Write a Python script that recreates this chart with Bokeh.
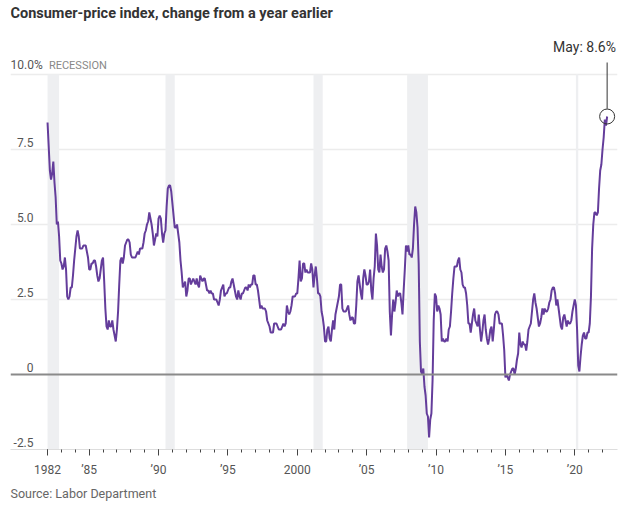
from bokeh.plotting import figure
from bokeh.models import FixedTicker, Range1d, Title, Span
from bokeh.embed import file_html
from bokeh.resources import INLINE
from bokeh.core.properties import value

# Monthly CPI-U, % change from a year earlier (Jan 1982 - May 2022)
cpi_1980s = [
    8.4, 7.6, 6.8, 6.5, 6.7, 7.1, 6.4, 5.9, 5.0, 5.1, 4.6, 3.8,   # 1982
    3.7, 3.5, 3.6, 3.9, 3.5, 2.6, 2.5, 2.6, 2.9, 2.9, 3.3, 3.8,   # 1983
    4.2, 4.6, 4.8, 4.6, 4.2, 4.2, 4.2, 4.3, 4.3, 4.3, 4.1, 3.9,   # 1984
    3.5, 3.5, 3.7, 3.7, 3.8, 3.8, 3.6, 3.3, 3.1, 3.2, 3.5, 3.8,   # 1985
    3.9, 3.1, 2.2, 1.6, 1.5, 1.8, 1.6, 1.6, 1.8, 1.5, 1.3, 1.1,   # 1986
    1.5, 2.1, 3.0, 3.8, 3.9, 3.7, 3.9, 4.3, 4.4, 4.5, 4.5, 4.4,   # 1987
    4.0, 3.9, 3.9, 3.9, 3.9, 4.0, 4.1, 4.0, 4.2, 4.2, 4.2, 4.4,   # 1988
    4.7, 4.8, 5.0, 5.1, 5.4, 5.2, 5.0, 4.7, 4.3, 4.5, 4.7, 4.6,   # 1989
]
cpi_1990s = [
    5.2, 5.3, 5.2, 4.7, 4.4, 4.7, 4.8, 5.6, 6.2, 6.3, 6.3, 6.1,   # 1990
    5.7, 5.3, 4.9, 4.9, 5.0, 4.7, 4.4, 3.8, 3.4, 2.9, 3.0, 3.1,   # 1991
    2.6, 2.8, 3.2, 3.2, 3.0, 3.1, 3.2, 3.1, 3.0, 3.2, 3.0, 2.9,   # 1992
    3.3, 3.2, 3.1, 3.2, 3.2, 3.0, 2.8, 2.8, 2.7, 2.8, 2.7, 2.7,   # 1993
    2.5, 2.5, 2.5, 2.4, 2.3, 2.5, 2.8, 2.9, 3.0, 2.6, 2.7, 2.7,   # 1994
    2.8, 2.9, 2.9, 3.1, 3.2, 3.0, 2.8, 2.6, 2.5, 2.8, 2.6, 2.5,   # 1995
    2.7, 2.7, 2.8, 2.9, 2.9, 2.8, 3.0, 2.9, 3.0, 3.0, 3.3, 3.3,   # 1996
    3.0, 3.0, 2.8, 2.5, 2.2, 2.3, 2.2, 2.2, 2.2, 2.1, 1.8, 1.7,   # 1997
    1.6, 1.4, 1.4, 1.4, 1.7, 1.7, 1.7, 1.6, 1.5, 1.5, 1.5, 1.6,   # 1998
    1.7, 1.6, 1.7, 2.3, 2.1, 2.0, 2.1, 2.3, 2.6, 2.6, 2.6, 2.7,   # 1999
]
cpi_2000s = [
    2.7, 3.2, 3.8, 3.1, 3.2, 3.7, 3.7, 3.4, 3.5, 3.4, 3.4, 3.4,   # 2000
    3.7, 3.5, 2.9, 3.3, 3.6, 3.2, 2.7, 2.7, 2.6, 2.1, 1.9, 1.6,   # 2001
    1.1, 1.1, 1.5, 1.6, 1.2, 1.1, 1.5, 1.8, 1.5, 2.0, 2.2, 2.4,   # 2002
    2.6, 3.0, 3.0, 2.2, 2.1, 2.1, 2.1, 2.2, 2.3, 2.0, 1.8, 1.9,   # 2003
    1.9, 1.7, 1.7, 2.3, 3.1, 3.3, 3.0, 2.7, 2.5, 3.2, 3.5, 3.3,   # 2004
    3.0, 3.0, 3.1, 3.5, 2.8, 2.5, 3.2, 3.6, 4.7, 4.3, 3.5, 3.4,   # 2005
    4.0, 3.6, 3.4, 3.5, 4.2, 4.3, 4.1, 3.8, 2.1, 1.3, 2.0, 2.5,   # 2006
    2.1, 2.4, 2.8, 2.6, 2.7, 2.7, 2.4, 2.0, 2.8, 3.5, 4.3, 4.1,   # 2007
    4.3, 4.0, 4.0, 3.9, 4.2, 5.0, 5.6, 5.4, 4.9, 3.7, 1.1, 0.1,   # 2008
    0.0, 0.2, -0.4, -0.7, -1.3, -1.4, -2.1, -1.5, -1.3, -0.2, 1.8, 2.7,  # 2009
]
cpi_2010s = [
    2.6, 2.1, 2.3, 2.2, 2.0, 1.1, 1.2, 1.1, 1.1, 1.2, 1.1, 1.5,   # 2010
    1.6, 2.1, 2.7, 3.2, 3.6, 3.6, 3.6, 3.8, 3.9, 3.5, 3.4, 3.0,   # 2011
    2.9, 2.9, 2.7, 2.3, 1.7, 1.7, 1.4, 1.7, 2.0, 2.2, 1.8, 1.7,   # 2012
    1.6, 2.0, 1.5, 1.1, 1.4, 1.8, 2.0, 1.5, 1.2, 1.0, 1.2, 1.5,   # 2013
    1.6, 1.1, 1.5, 2.0, 2.1, 2.1, 2.0, 1.7, 1.7, 1.7, 1.3, 0.8,   # 2014
    -0.1, 0.0, -0.1, -0.2, 0.0, 0.1, 0.2, 0.2, 0.0, 0.2, 0.5, 0.7,  # 2015
    1.4, 1.0, 0.9, 1.1, 1.0, 1.0, 0.8, 1.1, 1.5, 1.6, 1.7, 2.1,   # 2016
    2.5, 2.7, 2.4, 2.2, 1.9, 1.6, 1.7, 1.9, 2.2, 2.0, 2.2, 2.1,   # 2017
    2.1, 2.2, 2.4, 2.5, 2.8, 2.9, 2.9, 2.7, 2.3, 2.5, 2.2, 1.9,   # 2018
    1.6, 1.5, 1.9, 2.0, 1.8, 1.6, 1.8, 1.7, 1.7, 1.8, 2.1, 2.3,   # 2019
]
cpi_2020s = [
    2.5, 2.3, 1.5, 0.3, 0.1, 0.6, 1.0, 1.3, 1.4, 1.2, 1.2, 1.4,   # 2020
    1.4, 1.7, 2.6, 4.2, 5.0, 5.4, 5.4, 5.3, 5.4, 6.2, 6.8, 7.0,   # 2021
    7.5, 7.9, 8.5, 8.3, 8.6,                                      # 2022
]
start_year = 1982
last_label = "May"

# Recessions (decimal years; first one clipped to the data start)
recession_start = [1982.0, 1990.5, 2001.167, 2007.917, 2020.083]
recession_end = [1982.833, 1991.167, 2001.833, 2009.417, 2020.25]

# Axis ticks
x_major = [1982, 1985, 1990, 1995, 2000, 2005, 2010, 2015, 2020]
x_labels = ["1982", "\u201985", "\u201990", "\u201995", "2000", "\u201905", "\u201910", "\u201915", "\u201920"]
x_minor = list(range(1982, 2023))
y_grid = [2.5, 5.0, 7.5, 10.0]
y_ticks = [-2.5, 0, 2.5, 5.0, 7.5, 10.0]
y_labels = ["-2.5", "0", "2.5", "5.0", "7.5", "10.0%"]

values = cpi_1980s + cpi_1990s + cpi_2000s + cpi_2010s + cpi_2020s
xs = [start_year + i / 12 for i in range(len(values))]

FONT = "Roboto"
x0, x1 = 1979.33, 2023.08
y0, y1 = -2.5, 12.4667

p = figure(width=624, height=508, output_backend="svg", toolbar_location=None,
           x_range=Range1d(x0, x1), y_range=Range1d(y0, y1),
           min_border_left=10, min_border_right=7, min_border_top=0, min_border_bottom=59,
           background_fill_color="white", border_fill_color="white")
p.outline_line_color = None

# Chart title (drawn at the top of the frame)
p.text(x=[x0], y=[12.03], text=["Consumer-price index, change from a year earlier"],
       text_font=value(FONT), text_font_size=value("14.5px"), text_font_style="bold",
       text_color="#333333", text_align="left", text_baseline="middle")

src = Title(text="Source: Labor Department", align="left", text_font=FONT,
            text_font_size="12.5px", text_font_style="normal", text_color="#666666",
            offset=0, standoff=9)
p.add_layout(src, "below")

# Grid
p.xgrid.visible = False
p.ygrid.ticker = FixedTicker(ticks=y_grid)
p.ygrid.grid_line_color = "#ececec"
p.ygrid.grid_line_width = 1.5
p.yaxis.visible = False

# X axis
ax = p.xaxis[0]
ax.ticker = FixedTicker(ticks=x_major, minor_ticks=x_minor)
ax.major_label_overrides = {t: l for t, l in zip(x_major, x_labels)}
ax.axis_line_color = "#dddddd"
ax.axis_line_width = 1
ax.major_tick_line_color = "#444444"
ax.minor_tick_line_color = "#444444"
ax.major_tick_out = 6
ax.major_tick_in = 0
ax.minor_tick_out = 3
ax.minor_tick_in = 0
ax.major_label_text_font = FONT
ax.major_label_text_font_size = "12px"
ax.major_label_text_color = "#555555"
ax.major_label_standoff = 7

# Recession bands
p.quad(left=recession_start, right=recession_end, bottom=y0, top=10.0,
       fill_color="#eeeff1", line_color=None)
p.text(x=[recession_start[0] + 0.1], y=[10.0], text=["RECESSION"],
       text_font=value(FONT), text_font_size=value("11px"), text_color="#888888",
       text_align="left", text_baseline="bottom", y_offset=-3)

# Y labels
lab_x = [x0 if l.endswith("%") else 1980.99 for l in y_labels]
lab_align = ["left" if l.endswith("%") else "right" for l in y_labels]
p.text(x=lab_x, y=y_ticks, text=y_labels, text_font=value(FONT),
       text_font_size=value("12px"), text_color="#555555",
       text_align=lab_align, text_baseline="bottom", y_offset=-3)

# Zero line
p.add_layout(Span(location=0, dimension="width", line_color="#8a8a8a", line_width=2))

# CPI line
p.line(xs, values, line_color="#643d9b", line_width=2)

# Latest-value callout
lx, ly = xs[-1], values[-1]
p.segment(x0=[lx], y0=[ly + 0.26], x1=[lx], y1=[10.4], line_color="#333333", line_width=1)
p.scatter(x=[lx], y=[ly], size=15, marker="circle", fill_color=None,
          line_color="#333333", line_width=1)
p.text(x=[2022.97], y=[10.93], text=[f"{last_label}: {ly}%"], text_font=value(FONT),
       text_font_size=value("14px"), text_color="#333333",
       text_align="right", text_baseline="middle")

open("out.html", "w").write(file_html(p, INLINE))
